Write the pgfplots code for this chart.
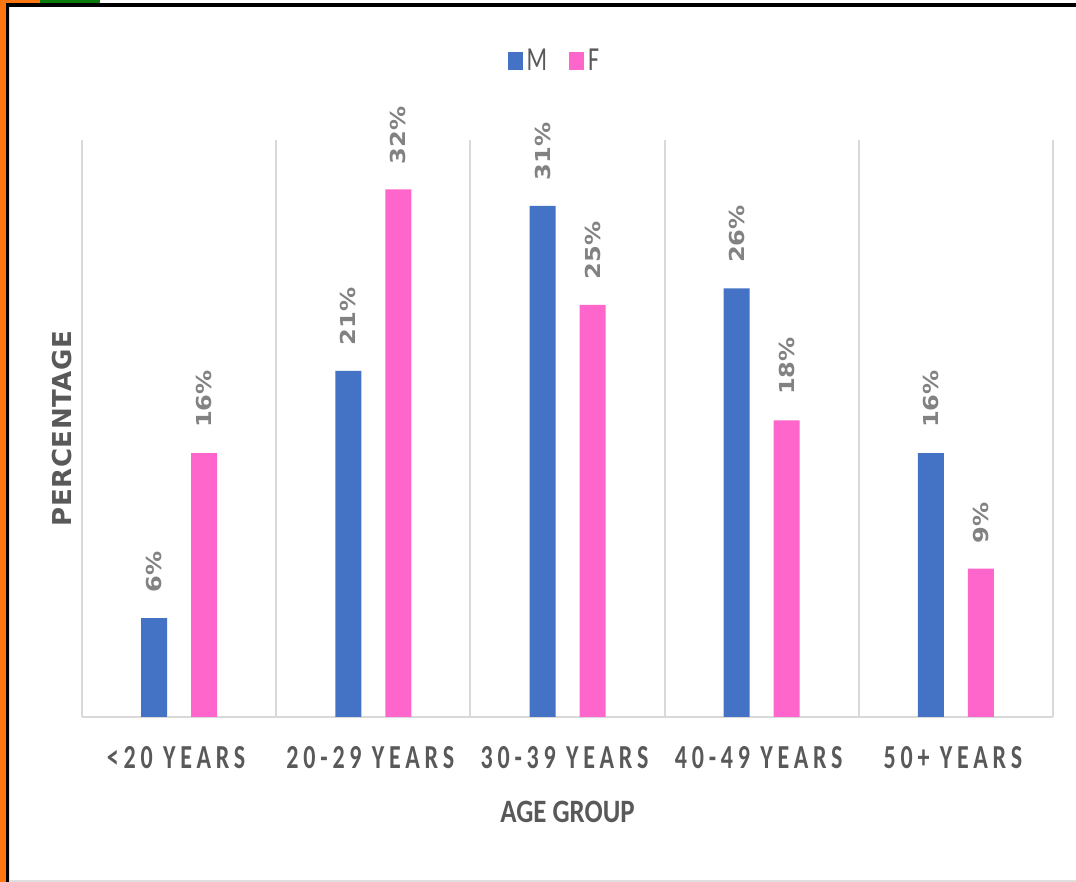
\documentclass[border=0pt]{standalone}
\usepackage{fontspec}
\usepackage{graphicx}
\usepackage{pgfplots}
\pgfplotsset{compat=1.18}
\setmainfont{Carlito}
\newfontfamily\tickfont{Carlito}[LetterSpace=20]
\newfontfamily\dvb{DejaVu Sans}
\newfontfamily\dvbsp{DejaVu Sans}[LetterSpace=2]
\definecolor{mblue}{HTML}{4472C4}
\definecolor{fpink}{HTML}{FF66CC}
\definecolor{txt}{HTML}{595959}
\definecolor{lbl}{HTML}{828282}
\definecolor{gridc}{HTML}{D9D9D9}
\definecolor{orng}{HTML}{FF7711}
\definecolor{grn}{HTML}{0A7A0A}
\newcommand\vs[1]{\scalebox{1}[1.4]{#1}}
\begin{document}
\begin{tikzpicture}
\useasboundingbox (0,0) rectangle (538pt,441pt);
\fill[white] (0,0) rectangle (538pt,441pt);
\fill[orng] (0,0) rectangle (3pt,441pt);
\fill[orng] (0,439.5pt) rectangle (20pt,441pt);
\fill[grn] (20pt,439.5pt) rectangle (50pt,441pt);
\fill[black] (3pt,0) rectangle (4.5pt,439.5pt);
\fill[black] (3pt,437.5pt) rectangle (538pt,439.5pt);
\fill[gray!20] (4.5pt,0) rectangle (5pt,437.5pt);
\fill[gray!25] (4.5pt,0) rectangle (538pt,1pt);
\begin{axis}[
  at={(41pt,82.5pt)}, anchor=south west,
  width=485.5pt, height=288.5pt, scale only axis,
  ybar=12pt, bar width=13pt,
  xmin=-0.5, xmax=4.5, ymin=0, ymax=35,
  axis x line*=bottom, axis y line*=left,
  x axis line style={draw=gridc, line width=1.3pt, -},
  y axis line style={draw=none},
  ytick=\empty,
  xtick={0,1,2,3,4},
  xticklabels={\vs{<20 YEARS},\vs{20-29 YEARS},\vs{30-39 YEARS},\vs{40-49 YEARS},\vs{50+ YEARS}},
  major tick length=0pt,
  xticklabel style={font=\tickfont\bfseries\fontsize{12}{12}\selectfont, text=txt, anchor=center, yshift=-20.5pt, xshift=-1.5pt},
  extra x ticks={-0.5,0.5,1.5,2.5,3.5,4.5},
  extra x tick labels={},
  extra x tick style={grid=major, major grid style={draw=gridc, line width=1pt}, major tick length=0pt},
  /pgf/number format/assume math mode=true,
  nodes near coords={\scalebox{1.17}[1]{\pgfmathprintnumber{\pgfplotspointmeta}\%}},
  every node near coord/.append style={font=\dvb\bfseries\fontsize{10.3}{10.3}\selectfont, text=lbl, rotate=90, anchor=west, inner xsep=12.5pt, inner ysep=0pt},
  xlabel={\scalebox{1.12}[1.36]{AGE GROUP}},
  every axis x label/.style={at={(axis description cs:0.5,0)}, yshift=-47.5pt, anchor=center, font=\bfseries\fontsize{12}{12}\selectfont, text=txt},
  ylabel={PERCENTAGE},
  every axis y label/.style={at={(axis description cs:0,0.5)}, xshift=-9.75pt, rotate=90, anchor=center, font=\dvbsp\bfseries\fontsize{13}{13}\selectfont, text=txt},
  legend style={at={(axis description cs:0.5,1)}, anchor=center, xshift=-6pt, yshift=39.5pt, draw=none, fill=none, font=\fontsize{12}{12}\selectfont, text=txt, /tikz/every even column/.append style={column sep=9pt}},
  legend columns=2,
]
\addplot[fill=mblue, draw=none, legend image code/.code={\fill[mblue] (0pt,-4.5pt) rectangle (7.5pt,4.5pt);}] coordinates {(0,6) (1,21) (2,31) (3,26) (4,16)};
\addplot[fill=fpink, draw=none, legend image code/.code={\fill[fpink] (0pt,-4.5pt) rectangle (7.5pt,4.5pt);}] coordinates {(0,16) (1,32) (2,25) (3,18) (4,9)};
\legend{\vs{M},\vs{F}}
\end{axis}
\end{tikzpicture}
\end{document}
